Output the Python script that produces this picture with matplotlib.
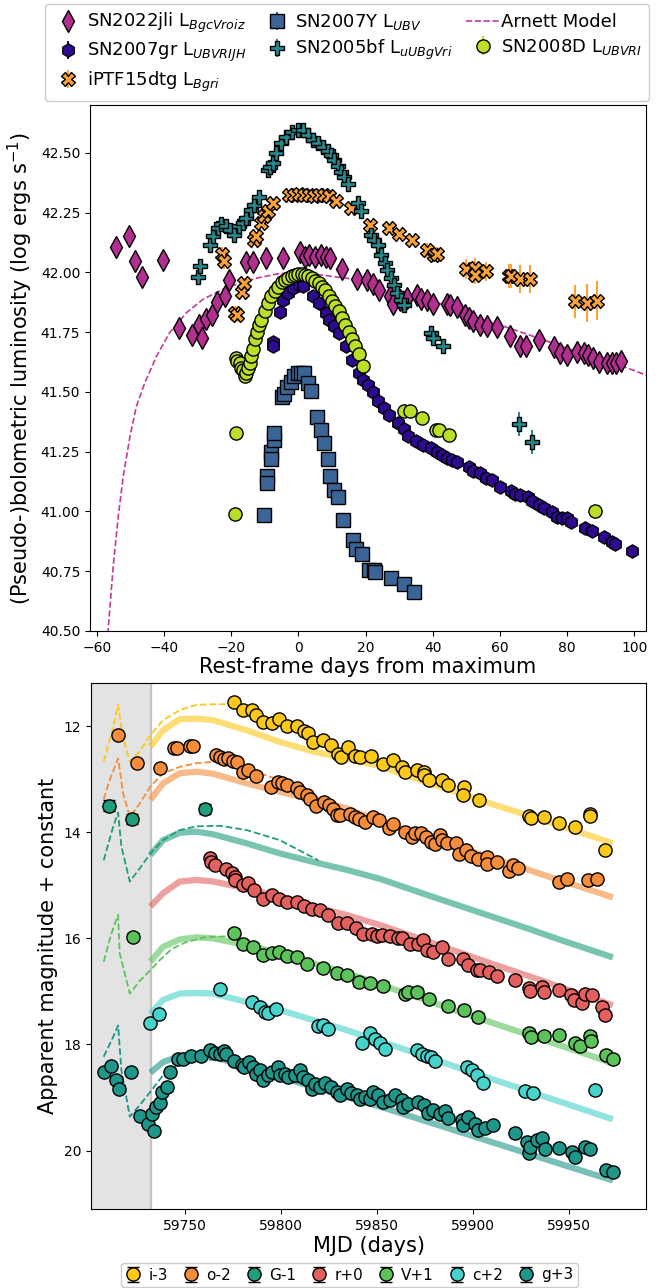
import matplotlib
matplotlib.use("Agg")
import matplotlib.pyplot as plt
import numpy as np

# ---------------- Top panel data (rest-frame days, log L) ----------------
jli_x = [-54.3, -50.5, -48.5, -46.4, -40.4, -35.5, -31.6, -29.6, -28.6, -27.6,
         -25.6, -24.2, -21.7, -20.5, -15.5, -13.4, -9.6, -4.5, 0.5, 2.0,
         3.1, 5.0, 6.7, 8.2, 9.5, 13.0, 17.6, 20.4, 22.1, 24.0,
         27.2, 28.2, 30.3, 32.4, 35.4, 36.4, 38.4, 40.2, 44.3, 45.1,
         47.1, 49.5, 50.7, 52.0, 54.0, 56.2, 59.1, 62.9, 66.1, 67.8,
         71.5, 76.0, 78.0, 79.9, 82.9, 84.9, 86.2, 87.8, 89.6, 91.8,
         93.3, 94.6, 96.0]
jli_y = [42.104, 42.150, 42.046, 41.979, 42.050, 41.769, 41.740, 41.780, 41.726, 41.805,
         41.823, 41.875, 41.900, 41.967, 42.042, 42.042, 42.058, 42.058, 42.084, 42.065,
         42.072, 42.065, 42.072, 42.066, 42.06, 42.015, 41.974, 41.968, 41.953, 41.928,
         41.900, 41.869, 41.886, 41.893, 41.907, 41.890, 41.883, 41.869, 41.869, 41.862,
         41.855, 41.823, 41.808, 41.795, 41.781, 41.774, 41.770, 41.733, 41.694, 41.691,
         41.719, 41.688, 41.663, 41.656, 41.666, 41.663, 41.656, 41.642, 41.625, 41.621,
         41.621, 41.621, 41.628]
jli_err = 0.035

gr_x = [-7.6, -7.6, -5.6, -4.7, -3.1, -1.7, 0.1, 1.3, 4.3, 6.2,
        8.2, 9.2, 10.7, 12.2, 14.1, 16.1, 18.1, 19.1, 20.6, 22.1,
        23.8, 25.5, 27.0, 29.8, 31.5, 32.7, 34.9, 37.1, 39.4, 41.3,
        42.8, 44.3, 45.8, 47.1, 50.7, 51.9, 54.0, 55.7, 57.7, 60.1,
        63.4, 64.6, 66.1, 68.4, 69.5, 71.5, 73.0, 75.5, 77.0, 78.4,
        79.9, 81.2, 85.2, 87.3, 91.0, 93.3, 94.1, 99.2]
gr_y = [41.708, 41.691, 41.836, 41.886, 41.914, 41.935, 41.948, 41.942, 41.900, 41.872,
        41.830, 41.80, 41.774, 41.746, 41.69, 41.635, 41.579, 41.55, 41.529, 41.501,
        41.460, 41.432, 41.404, 41.369, 41.344, 41.316, 41.296, 41.278, 41.264, 41.250,
        41.236, 41.222, 41.215, 41.208, 41.184, 41.170, 41.159, 41.138, 41.131, 41.103,
        41.085, 41.075, 41.068, 41.059, 41.045, 41.027, 41.015, 40.999, 40.978, 40.971,
        40.971, 40.954, 40.932, 40.918, 40.894, 40.873, 40.862, 40.835]
gr_err = 0.01

dtg_x = [-22.7, -22.0, -19.0, -18.3, -16.7, -16.3, -13.1, -12.6, -11.1, -10.1,
         -9.1, -7.6, -2.7, -1.2, 0.3, 1.8, 3.3, 4.7, 6.2, 7.7,
         9.2, 11.1, 15.6, 21.4, 27.0, 30.0, 33.7, 38.4, 40.4, 41.3,
         49.8, 52.7, 52.7, 55.7, 62.6, 63.4, 66.1, 69.0, 82.4, 85.9, 88.8]
dtg_y = [42.078, 42.046, 41.83, 41.823, 41.916, 41.955, 42.136, 42.15, 42.206, 42.234,
         42.255, 42.29, 42.325, 42.325, 42.327, 42.325, 42.325, 42.32, 42.325, 42.325,
         42.318, 42.297, 42.269, 42.199, 42.185, 42.162, 42.134, 42.092, 42.074, 42.078,
         42.014, 42.018, 41.99, 42.004, 41.986, 41.983, 41.972, 41.972, 41.879, 41.872, 41.882]
dtg_err = [0.03, 0.03, 0.03, 0.03, 0.02, 0.02, 0.02, 0.02, 0.02, 0.02,
           0.02, 0.02, 0.01, 0.01, 0.01, 0.01, 0.01, 0.01, 0.01, 0.01,
           0.01, 0.01, 0.01, 0.02, 0.02, 0.02, 0.02, 0.03, 0.03, 0.03,
           0.04, 0.04, 0.04, 0.04, 0.05, 0.05, 0.06, 0.06, 0.07, 0.08, 0.08]

y07_x = [-10.3, -9.3, -9.3, -8.1, -8.1, -7.3, -7.1, -4.8, -4.4, -3.5,
         -2.2, -1.2, -0.2, 0.8, 1.8, 2.8, 3.8, 5.5, 6.7, 7.7,
         8.7, 9.4, 10.7, 11.7, 13.2, 16.4, 17.1, 18.9, 20.9, 22.6,
         22.8, 27.5, 31.5, 34.4]
y07_y = [40.986, 41.148, 41.12, 41.25, 41.218, 41.30, 41.327, 41.48, 41.49, 41.52,
         41.543, 41.565, 41.577, 41.58, 41.577, 41.536, 41.504, 41.397, 41.34, 41.285,
         41.219, 41.149, 41.089, 41.059, 40.964, 40.88, 40.845, 40.824, 40.754, 40.757,
         40.747, 40.723, 40.696, 40.663]
y07_err = 0.01

bf_x = [-29.9, -29.2, -26.4, -25.4, -23.9, -22.9, -21.5, -20.3, -19.2, -17.7,
        -16.5, -15.5, -14.0, -13.1, -11.8, -9.1, -8.4, -7.6, -6.6, -5.1,
        -3.7, -1.9, -0.2, 1.3, 2.8, 4.3, 5.7, 7.2, 8.7, 9.7,
        10.7, 11.7, 12.7, 13.7, 14.9, 17.9, 18.6, 21.6, 22.6, 23.8,
        24.5, 25.8, 26.5, 27.5, 28.5, 29.5, 30.5, 31.5, 39.4, 40.2,
        43.1, 65.6, 69.5]
bf_y = [41.979, 42.028, 42.116, 42.15, 42.185, 42.203, 42.192, 42.175, 42.157, 42.192,
        42.206, 42.227, 42.262, 42.283, 42.315, 42.426, 42.44, 42.457, 42.499, 42.540,
        42.568, 42.589, 42.596, 42.596, 42.575, 42.554, 42.540, 42.526, 42.506, 42.49,
        42.47, 42.443, 42.42, 42.40, 42.369, 42.29, 42.255, 42.157, 42.136, 42.116,
        42.074, 42.039, 42.011, 41.976, 41.948, 41.914, 41.886, 41.865, 41.747, 41.726,
        41.694, 41.365, 41.289]
bf_err = [0.01] * 51 + [0.05, 0.05]

d8_x = [-18.8, -18.5, -18.7, -18.2, -17.5, -17.0, -16.5, -16.0, -15.6, -15.0,
        -14.5, -14.0, -13.5, -13.0, -12.3, -11.6, -11.0, -10.0, -9.0, -8.0,
        -7.0, -6.0, -5.0, -4.0, -3.0, -2.0, -1.0, 0.0, 1.0, 2.0,
        3.0, 4.0, 5.0, 6.0, 7.0, 8.0, 9.0, 10.0, 11.0, 12.0,
        13.0, 14.0, 15.0, 16.0, 17.0, 18.0, 19.3, 31.5, 33.2, 36.9,
        40.9, 42.0, 44.8, 88.3]
d8_y = [40.99, 41.33, 41.64, 41.63, 41.62, 41.60, 41.59, 41.565, 41.58, 41.60,
        41.62, 41.65, 41.68, 41.72, 41.75, 41.78, 41.80, 41.84, 41.87, 41.90,
        41.92, 41.94, 41.96, 41.97, 41.975, 41.985, 41.99, 41.994, 41.994, 41.99,
        41.985, 41.975, 41.965, 41.955, 41.94, 41.925, 41.90, 41.88, 41.86, 41.84,
        41.81, 41.78, 41.75, 41.72, 41.69, 41.66, 41.61, 41.42, 41.42, 41.39,
        41.34, 41.34, 41.32, 41.00]
d8_err = 0.02

arn_x = [-56.9, -56.6, -55.1, -53.6, -52.1, -50.1, -48.2, -45.7, -42.2, -38.3,
         -33.3, -28.4, -22.5, -17.5, -12.0, -6.0, 0.0, 6.2, 16.1, 26.0,
         35.9, 45.8, 55.7, 65.6, 75.5, 85.4, 95.3, 103.5]
arn_y = [40.45, 40.506, 40.771, 40.98, 41.148, 41.315, 41.44, 41.538, 41.65, 41.748,
         41.831, 41.887, 41.929, 41.955, 41.977, 41.994, 42.0, 41.99, 41.972, 41.942,
         41.90, 41.851, 41.80, 41.753, 41.705, 41.656, 41.614, 41.57]

# ---------------- Bottom panel data (MJD, apparent mag) ----------------
i_mjd = [59775.4, 59780.2, 59784.6, 59786.8, 59790.7, 59795.0, 59799.0, 59802.8, 59808.0, 59811.9,
         59814.1, 59816.7, 59822.0, 59825.8, 59829.8, 59831.0, 59834.6, 59838.4, 59841.0, 59846.6,
         59852.9, 59858.4, 59862.8, 59864.5, 59870.6, 59874.1, 59874.1, 59877.2, 59883.6, 59887.1,
         59895.3, 59894.9, 59902.9, 59929.1, 59930.0, 59936.9, 59944.9, 59953.1, 59960.9, 59960.9, 59968.8]
i_mag = [11.54, 11.69, 11.69, 11.79, 11.92, 11.94, 11.87, 12.00, 12.00, 12.09,
         12.14, 12.30, 12.26, 12.36, 12.52, 12.59, 12.39, 12.57, 12.59, 12.57,
         12.72, 12.64, 12.77, 12.86, 12.82, 12.86, 12.92, 13.02, 13.01, 13.11,
         13.14, 13.30, 13.39, 13.70, 13.73, 13.72, 13.82, 13.91, 13.65, 13.69, 14.34]

o_mjd = [59715.1, 59725.0, 59736.8, 59744.1, 59746.0, 59752.4, 59754.2, 59766.0, 59768.1, 59770.3,
         59772.4, 59774.7, 59776.8, 59780.2, 59782.8, 59786.8, 59794.5, 59798.5, 59800.2, 59802.8,
         59808.4, 59809.8, 59813.2, 59815.0, 59818.1, 59822.3, 59825.1, 59827.1, 59829.2, 59830.6,
         59835.8, 59838.4, 59840.7, 59843.6, 59848.0, 59851.1, 59856.3, 59858.1, 59864.5, 59868.0,
         59869.7, 59872.8, 59875.4, 59878.0, 59880.1, 59882.7, 59883.9, 59886.2, 59891.1, 59892.8,
         59896.2, 59898.8, 59902.7, 59907.0, 59907.0, 59912.2, 59918.8, 59920.6, 59923.2, 59944.4,
         59948.7, 59960.0, 59964.4]
o_mag = [12.16, 12.70, 12.79, 12.42, 12.42, 12.37, 12.37, 12.55, 12.59, 12.62,
         12.60, 12.65, 12.68, 12.86, 12.83, 12.95, 13.14, 13.05, 13.07, 13.11,
         13.17, 13.24, 13.30, 13.38, 13.51, 13.44, 13.49, 13.57, 13.68, 13.68,
         13.65, 13.71, 13.76, 13.80, 13.72, 13.77, 13.93, 13.85, 13.99, 14.09,
         14.02, 14.02, 14.10, 14.19, 14.22, 14.05, 14.15, 14.21, 14.21, 14.41,
         14.34, 14.45, 14.51, 14.46, 14.60, 14.57, 14.73, 14.62, 14.67, 14.93,
         14.89, 14.90, 14.88]

G_mjd = [59710.4, 59722.4, 59760.3]
G_mag = [13.50, 13.75, 13.56]

r_mjd = [59762.9, 59763.7, 59765.5, 59771.5, 59774.2, 59775.9, 59775.9, 59780.2, 59782.8, 59785.8,
         59790.3, 59795.0, 59799.0, 59802.8, 59808.0, 59811.9, 59815.8, 59820.2, 59824.5, 59829.8,
         59834.1, 59839.0, 59842.8, 59847.1, 59849.7, 59852.3, 59856.7, 59861.0, 59862.8, 59867.1,
         59871.4, 59873.7, 59875.8, 59879.3, 59883.6, 59886.6, 59894.9, 59897.5, 59901.9, 59903.5,
         59908.0, 59912.3, 59921.8, 59928.8, 59929.6, 59935.7, 59936.6, 59944.9, 59950.9, 59952.2,
         59956.6, 59958.3, 59961.8, 59967.0, 59968.7]
r_mag = [14.48, 14.56, 14.62, 14.70, 14.76, 14.84, 14.90, 15.00, 14.96, 15.08,
         15.25, 15.18, 15.25, 15.31, 15.31, 15.40, 15.45, 15.47, 15.56, 15.72,
         15.71, 15.81, 15.92, 15.91, 15.96, 15.94, 15.96, 15.99, 16.00, 16.10,
         16.10, 16.03, 16.22, 16.25, 16.16, 16.38, 16.38, 16.50, 16.60, 16.60,
         16.63, 16.71, 16.79, 16.94, 16.99, 16.91, 17.02, 16.98, 17.07, 17.16,
         17.21, 17.04, 17.07, 17.29, 17.45]

V_mjd = [59722.9, 59775.4, 59780.2, 59785.4, 59790.7, 59795.0, 59799.0, 59802.8, 59808.0, 59813.2,
         59821.9, 59828.9, 59834.1, 59840.7, 59846.3, 59852.9, 59864.5, 59866.2, 59870.9, 59877.0,
         59886.7, 59895.4, 59902.7, 59928.8, 59930.0, 59937.0, 59944.9, 59953.1, 59955.7, 59960.9,
         59961.5, 59969.3, 59972.6]
V_mag = [15.97, 15.89, 16.10, 16.16, 16.32, 16.27, 16.25, 16.33, 16.35, 16.49,
         16.55, 16.66, 16.69, 16.82, 16.85, 16.90, 17.04, 17.01, 17.01, 17.15,
         17.28, 17.35, 17.48, 17.78, 17.86, 17.84, 17.82, 17.98, 18.03, 17.84,
         17.93, 18.20, 18.28]

c_mjd = [59731.9, 59736.3, 59768.4, 59784.6, 59788.9, 59791.6, 59792.9, 59797.3, 59819.3, 59821.9,
         59824.5, 59841.9, 59846.3, 59848.9, 59851.5, 59854.1, 59870.6, 59873.1, 59875.8, 59877.9,
         59880.1, 59896.6, 59899.2, 59901.8, 59905.3, 59927.1, 59931.0, 59963.5]
c_mag = [17.60, 17.42, 16.96, 17.20, 17.29, 17.38, 17.40, 17.34, 17.65, 17.64,
         17.71, 17.98, 17.79, 17.89, 17.98, 18.08, 18.11, 18.17, 18.22, 18.24,
         18.31, 18.43, 18.48, 18.58, 18.72, 18.87, 18.92, 18.86]

g_mjd = [59707.6, 59711.6, 59713.9, 59715.6, 59721.7, 59726.4, 59730.7, 59733.7, 59732.5, 59734.7,
         59736.8, 59738.2, 59740.6, 59742.0, 59746.4, 59749.0, 59753.3, 59758.5, 59763.2, 59765.5,
         59768.1, 59770.2, 59771.2, 59775.4, 59779.4, 59780.4, 59783.0, 59785.4, 59786.8, 59789.0,
         59790.7, 59793.3, 59795.0, 59798.5, 59799.3, 59802.0, 59803.7, 59807.2, 59809.8, 59811.5,
         59814.1, 59815.8, 59817.6, 59820.2, 59822.8, 59825.8, 59828.9, 59830.6, 59834.1, 59836.2,
         59839.3, 59841.0, 59843.6, 59846.3, 59848.0, 59850.6, 59853.2, 59856.6, 59859.2, 59862.8,
         59863.6, 59866.2, 59871.4, 59874.1, 59876.7, 59879.3, 59882.8, 59885.3, 59887.1, 59894.0,
         59894.9, 59897.5, 59901.0, 59902.7, 59906.2, 59910.2, 59921.8, 59927.9, 59928.8, 59929.6,
         59933.1, 59935.7, 59937.1, 59944.9, 59951.3, 59953.1, 59958.3, 59960.9, 59969.3, 59972.6]
g_mag = [18.52, 18.41, 18.66, 18.83, 18.52, 19.35, 19.50, 19.63, 19.30, 19.17,
         19.10, 18.89, 18.81, 18.52, 18.28, 18.28, 18.22, 18.22, 18.11, 18.16,
         18.17, 18.12, 18.17, 18.31, 18.39, 18.43, 18.33, 18.42, 18.55, 18.48,
         18.67, 18.58, 18.52, 18.42, 18.58, 18.55, 18.62, 18.58, 18.48, 18.62,
         18.67, 18.83, 18.75, 18.80, 18.72, 18.80, 18.89, 18.95, 18.83, 18.92,
         18.95, 19.02, 18.99, 19.02, 18.89, 18.95, 19.08, 19.05, 18.95, 19.04,
         19.17, 19.12, 19.08, 19.14, 19.29, 19.24, 19.31, 19.25, 19.38, 19.43,
         19.52, 19.36, 19.49, 19.61, 19.58, 19.52, 19.66, 19.83, 20.04, 19.93,
         19.80, 19.77, 19.96, 19.95, 20.02, 20.12, 19.93, 19.96, 20.36, 20.40]

# solid model curves (common MJD grid)
model_mjd = [59731.9, 59738.5, 59747.2, 59755.9, 59764.6, 59782.0, 59799.3, 59816.7, 59834.1,
             59851.5, 59875.8, 59893.2, 59910.6, 59928.0, 59945.4, 59962.8, 59972.7]
i_model = [12.39, 12.08, 11.87, 11.86, 11.89, 12.08, 12.30, 12.48, 12.61, 12.76, 13.06, 13.27, 13.48, 13.68, 13.88, 14.09, 14.21]
o_model = [13.39, 13.08, 12.89, 12.86, 12.90, 13.08, 13.24, 13.39, 13.55, 13.80, 14.09, 14.29, 14.50, 14.70, 14.91, 15.11, 15.23]
G_model = [14.43, 14.15, 14.01, 13.99, 14.04, 14.21, 14.40, 14.56, 14.71, 14.88, 15.18, 15.39, 15.60, 15.81, 16.03, 16.24, 16.36]
r_model = [15.40, 15.15, 14.93, 14.90, 14.93, 15.06, 15.22, 15.40, 15.56, 15.75, 16.05, 16.27, 16.49, 16.70, 16.92, 17.14, 17.26]
V_model = [16.44, 16.16, 16.02, 15.98, 16.00, 16.13, 16.28, 16.47, 16.65, 16.87, 17.17, 17.39, 17.60, 17.81, 18.02, 18.23, 18.36]
c_model = [17.42, 17.16, 17.04, 17.03, 17.04, 17.20, 17.35, 17.54, 17.73, 17.94, 18.23, 18.45, 18.66, 18.87, 19.08, 19.29, 19.41]
g_model = [18.53, 18.33, 18.22, 18.20, 18.23, 18.42, 18.61, 18.80, 18.99, 19.17, 19.45, 19.65, 19.85, 20.05, 20.25, 20.45, 20.56]

# dashed model curves
i_dash_mjd = [59707.6, 59712.0, 59715.1, 59717.5, 59721.2, 59726.4, 59731.9, 59738.5, 59747.2, 59755.9, 59764.6, 59771.5, 59781.0, 59790.7, 59800.0]
i_dash_mag = [12.67, 12.10, 11.60, 12.20, 12.67, 12.48, 12.17, 11.89, 11.70, 11.60, 11.59, 11.59, 11.70, 11.89, 12.02]
o_dash_mjd = [59707.6, 59710.7, 59715.1, 59717.7, 59721.2, 59726.4, 59731.9, 59738.5, 59747.2, 59755.9, 59766.3, 59782.0, 59799.3, 59816.7, 59820.0]
o_dash_mag = [13.38, 13.02, 12.61, 13.27, 13.71, 13.46, 13.14, 12.89, 12.77, 12.70, 12.67, 12.80, 13.02, 13.30, 13.36]
G_dash_mjd = [59707.6, 59712.5, 59715.1, 59716.8, 59721.2, 59726.4, 59731.9, 59738.5, 59747.2, 59755.9, 59768.1, 59782.0, 59799.3, 59819.3]
G_dash_mag = [14.53, 13.90, 13.63, 14.27, 14.93, 14.68, 14.40, 14.15, 13.96, 13.89, 13.88, 13.96, 14.15, 14.53]
V_dash_mjd = [59707.6, 59711.6, 59715.1, 59715.9, 59721.2, 59726.4, 59731.9, 59736.8, 59743.0, 59750.0, 59760.0, 59773.0, 59790.0]
V_dash_mag = [16.44, 15.91, 15.56, 16.28, 17.04, 16.80, 16.60, 16.41, 16.20, 16.08, 15.98, 15.96, 16.15]
g_dash_mjd = [59707.6, 59712.5, 59715.1, 59716.8, 59721.2, 59726.4, 59731.9, 59738.5, 59747.2, 59755.9, 59768.1, 59782.0, 59799.3, 59816.7, 59822.8]
g_dash_mag = [18.23, 17.86, 17.64, 18.48, 19.36, 19.14, 18.89, 18.58, 18.36, 18.30, 18.28, 18.39, 18.58, 18.83, 18.95]

band_labels = ['i-3', 'o-2', 'G-1', 'r+0', 'V+1', 'c+2', 'g+3']
band_colors = ['#fcc81a', '#f68d3a', '#1f9e7c', '#e2615f', '#5cc35a', '#45d3cc', '#1e968a']
band_errs = [0.05, 0.04, 0.10, 0.04, 0.07, 0.03, 0.06]

# ---------------- Figure ----------------
fig = plt.figure(figsize=(6.62, 12.88), dpi=100)
ax1 = fig.add_axes([0.136, 0.5101, 0.840, 0.4084])
ax2 = fig.add_axes([0.1375, 0.0613, 0.8385, 0.4084])

# top panel
arn, = ax1.plot(arn_x, arn_y, ls='--', color='#c4399a', lw=1.2, label='Arnett Model', zorder=1)
kw = dict(mec='k', mew=1.0, capsize=0, elinewidth=1.5, zorder=3)
h_jli = ax1.errorbar(jli_x, jli_y, yerr=jli_err, fmt='d', ms=11, color='#b12f8e', ecolor='#d23fa0',
                     label=r'SN2022jli L$_{BgcVroiz}$', **kw)
h_y07 = ax1.errorbar(y07_x, y07_y, yerr=y07_err, fmt='s', ms=9.5, color='#3b6596', ecolor='#3b6596',
                     label=r'SN2007Y L$_{UBV}$', **kw)
h_dtg = ax1.errorbar(dtg_x, dtg_y, yerr=dtg_err, fmt='X', ms=10, color='#fba238', ecolor='#fba238',
                     label=r'iPTF15dtg L$_{Bgri}$', **kw)
h_bf = ax1.errorbar(bf_x, bf_y, yerr=bf_err, fmt='P', ms=10, color='#25898d', ecolor='#25898d',
                    label=r'SN2005bf L$_{uUBgVri}$', **kw)
h_gr = ax1.errorbar(gr_x, gr_y, yerr=gr_err, fmt='h', ms=9.5, color='#2e0a90', ecolor='#2e0a90',
                    label=r'SN2007gr L$_{UBVRIJH}$', **kw)
h_d8 = ax1.errorbar(d8_x, d8_y, yerr=d8_err, fmt='o', ms=9.5, color='#bbdf27', ecolor='#bbdf27',
                    label=r'SN2008D L$_{UBVRI}$', **kw)

ax1.set_xlim(-62, 103.5)
ax1.set_ylim(40.5, 42.70)
ax1.set_xticks(np.arange(-60, 101, 20))
ax1.set_yticks(np.arange(40.5, 42.51, 0.25))
ax1.yaxis.set_major_formatter(matplotlib.ticker.FormatStrFormatter('%.2f'))
ax1.tick_params(labelsize=10)
ax1.set_xlabel('Rest-frame days from maximum', fontsize=15, labelpad=2)
ax1.set_ylabel(r'(Pseudo-)bolometric luminosity (log ergs s$^{-1}$)', fontsize=15)

fig.legend([h_jli, h_gr, h_dtg, h_y07, h_bf, arn, h_d8],
           [h_jli.get_label(), h_gr.get_label(), h_dtg.get_label(), h_y07.get_label(),
            h_bf.get_label(), 'Arnett Model', h_d8.get_label()],
           loc='upper left', bbox_to_anchor=(45 / 662, 1 - 4 / 1288), borderaxespad=0,
           ncol=3, fontsize=13, handlelength=1.8, handletextpad=0.1, columnspacing=0.8,
           labelspacing=0.3, borderpad=0.4, framealpha=1, edgecolor='#cccccc')

# bottom panel
ax2.axvspan(59690, 59732, color='#e3e3e3', zorder=0)
ax2.axvline(59732, color='#c4c4c4', lw=1.5, zorder=0)

models = [i_model, o_model, G_model, r_model, V_model, c_model, g_model]
for m, col in zip(models, band_colors):
    ax2.plot(model_mjd, m, color=col, lw=4.5, alpha=0.6, solid_capstyle='butt', zorder=1)

dashes = [(i_dash_mjd, i_dash_mag, band_colors[0]), (o_dash_mjd, o_dash_mag, band_colors[1]),
          (G_dash_mjd, G_dash_mag, band_colors[2]), (V_dash_mjd, V_dash_mag, band_colors[4]),
          (g_dash_mjd, g_dash_mag, band_colors[6])]
for dx, dy, col in dashes:
    ax2.plot(dx, dy, ls='--', color=col, lw=1.3, zorder=1)

data = [(i_mjd, i_mag), (o_mjd, o_mag), (G_mjd, G_mag), (r_mjd, r_mag),
        (V_mjd, V_mag), (c_mjd, c_mag), (g_mjd, g_mag)]
handles = []
for (x, y), lab, col, e in zip(data, band_labels, band_colors, band_errs):
    h = ax2.errorbar(x, y, yerr=e, fmt='o', ms=9.5, color=col, mec='k', mew=1.0,
                     ecolor='k', elinewidth=1.2, capsize=4, label=lab, zorder=3)
    handles.append(h)

ax2.set_xlim(59701, 59990)
ax2.set_ylim(21.1, 11.19)
ax2.set_xticks([59750, 59800, 59850, 59900, 59950])
ax2.set_yticks([12, 14, 16, 18, 20])
ax2.tick_params(labelsize=10)
ax2.set_xlabel('MJD (days)', fontsize=15, labelpad=2)
ax2.set_ylabel('Apparent magnitude + constant', fontsize=15)

fig.legend(handles, band_labels, loc='center', bbox_to_anchor=(0.528, 1 - 1275 / 1288),
           ncol=7, fontsize=11, handlelength=1.0, handletextpad=0.5, columnspacing=1.0,
           borderpad=0.3, framealpha=1, edgecolor='#cccccc', borderaxespad=0)

fig.savefig('out.png', dpi=100)
